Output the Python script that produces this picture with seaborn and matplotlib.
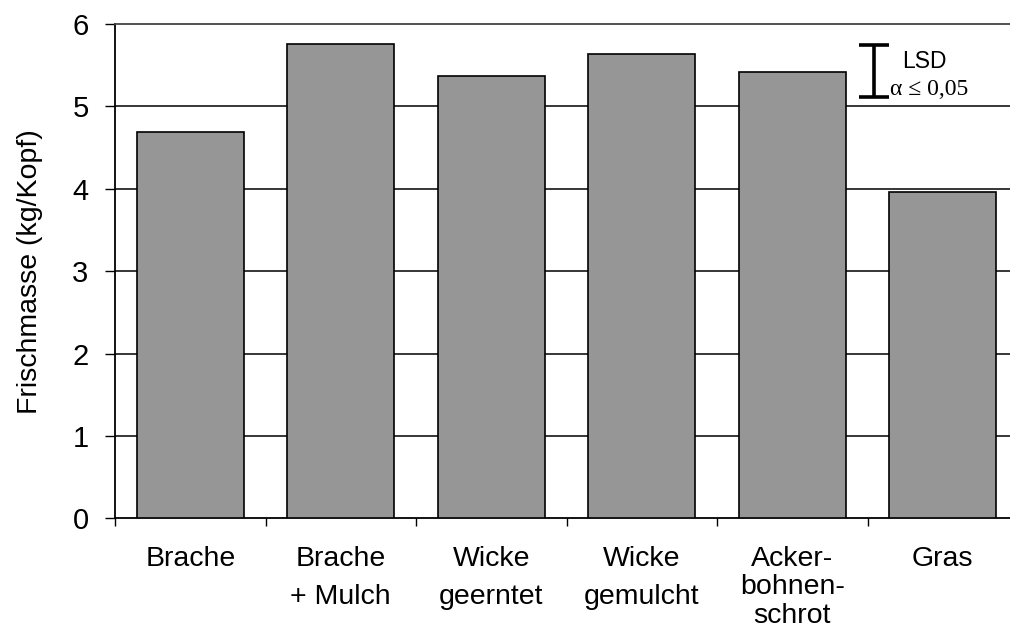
import matplotlib
matplotlib.use("Agg")
import matplotlib.pyplot as plt
import seaborn as sns
import pandas as pd
import numpy as np

categories = ["Brache", "Brache\n+ Mulch", "Wicke\ngeerntet", "Wicke\ngemulcht",
              "Acker-\nbohnen-\nschrot", "Gras"]
values = [4.69, 5.76, 5.37, 5.64, 5.42, 3.96]
yticks = [0, 1, 2, 3, 4, 5, 6]
lsd_value = 0.635
lsd_label = "LSD"
alpha_label = "α ≤ 0,05"
ylabel = "Frischmasse (kg/Kopf)"

sns.set_theme(style="white")
plt.rcParams["font.family"] = ["Liberation Sans", "DejaVu Sans"]
plt.rcParams["text.color"] = "black"
plt.rcParams["axes.labelcolor"] = "black"
plt.rcParams["xtick.color"] = "black"
plt.rcParams["ytick.color"] = "black"

df = pd.DataFrame({"cat": categories, "val": values})

fig = plt.figure(figsize=(10.1, 6.3), dpi=100)
ax = fig.add_axes([115 / 1010, (630 - 518.3) / 630, 903 / 1010, (518.3 - 24) / 630])

sns.barplot(data=df, x="cat", y="val", color="#969696", saturation=1,
            width=0.71, edgecolor="black", linewidth=1.2, ax=ax, zorder=3)

ax.set_xlim(-0.5, 5.5)
ax.set_ylim(0, 6)
ax.set_yticks(yticks)
ax.set_yticklabels([str(t) for t in yticks], fontsize=21)
ax.set_xticks(range(len(categories)))
ax.set_xticklabels(categories, fontsize=20.5, va="top")
for lab in ax.get_xticklabels():
    n = lab.get_text().count("\n")
    lab.set_linespacing(1.62 if n == 1 else 1.12)
ax.set_xticks(np.arange(-0.5, 5.6, 1.0), minor=True)
ax.tick_params(axis="x", which="major", length=0, pad=20)
ax.tick_params(axis="x", which="minor", length=6, width=1, direction="out", bottom=True)
ax.tick_params(axis="y", which="major", length=7, width=1, direction="out", left=True, pad=12)

for y in yticks[1:-1]:
    ax.axhline(y, color="black", lw=1.1, zorder=1)

for side in ["left", "bottom"]:
    ax.spines[side].set_color("black")
    ax.spines[side].set_linewidth(1.3)
ax.spines["top"].set_color("#444444")
ax.spines["top"].set_linewidth(1.3)
ax.spines["right"].set_visible(False)

ax.set_xlabel("")
ax.set_ylabel(ylabel, fontsize=20.5, labelpad=21)

# LSD indicator
lsd_x = 4.545
lsd_center = 5.43
ax.errorbar([lsd_x], [lsd_center], yerr=[lsd_value / 2], fmt="none", ecolor="black",
            elinewidth=2.6, capsize=11, capthick=2.6, zorder=4)
ax.text(4.733, 5.55, lsd_label, fontsize=16.5, va="center", ha="left")
ax.text(4.65, 5.2, alpha_label, fontsize=17, va="center", ha="left",
        family=["Liberation Serif", "DejaVu Serif"])

fig.savefig("out.png", dpi=100)
